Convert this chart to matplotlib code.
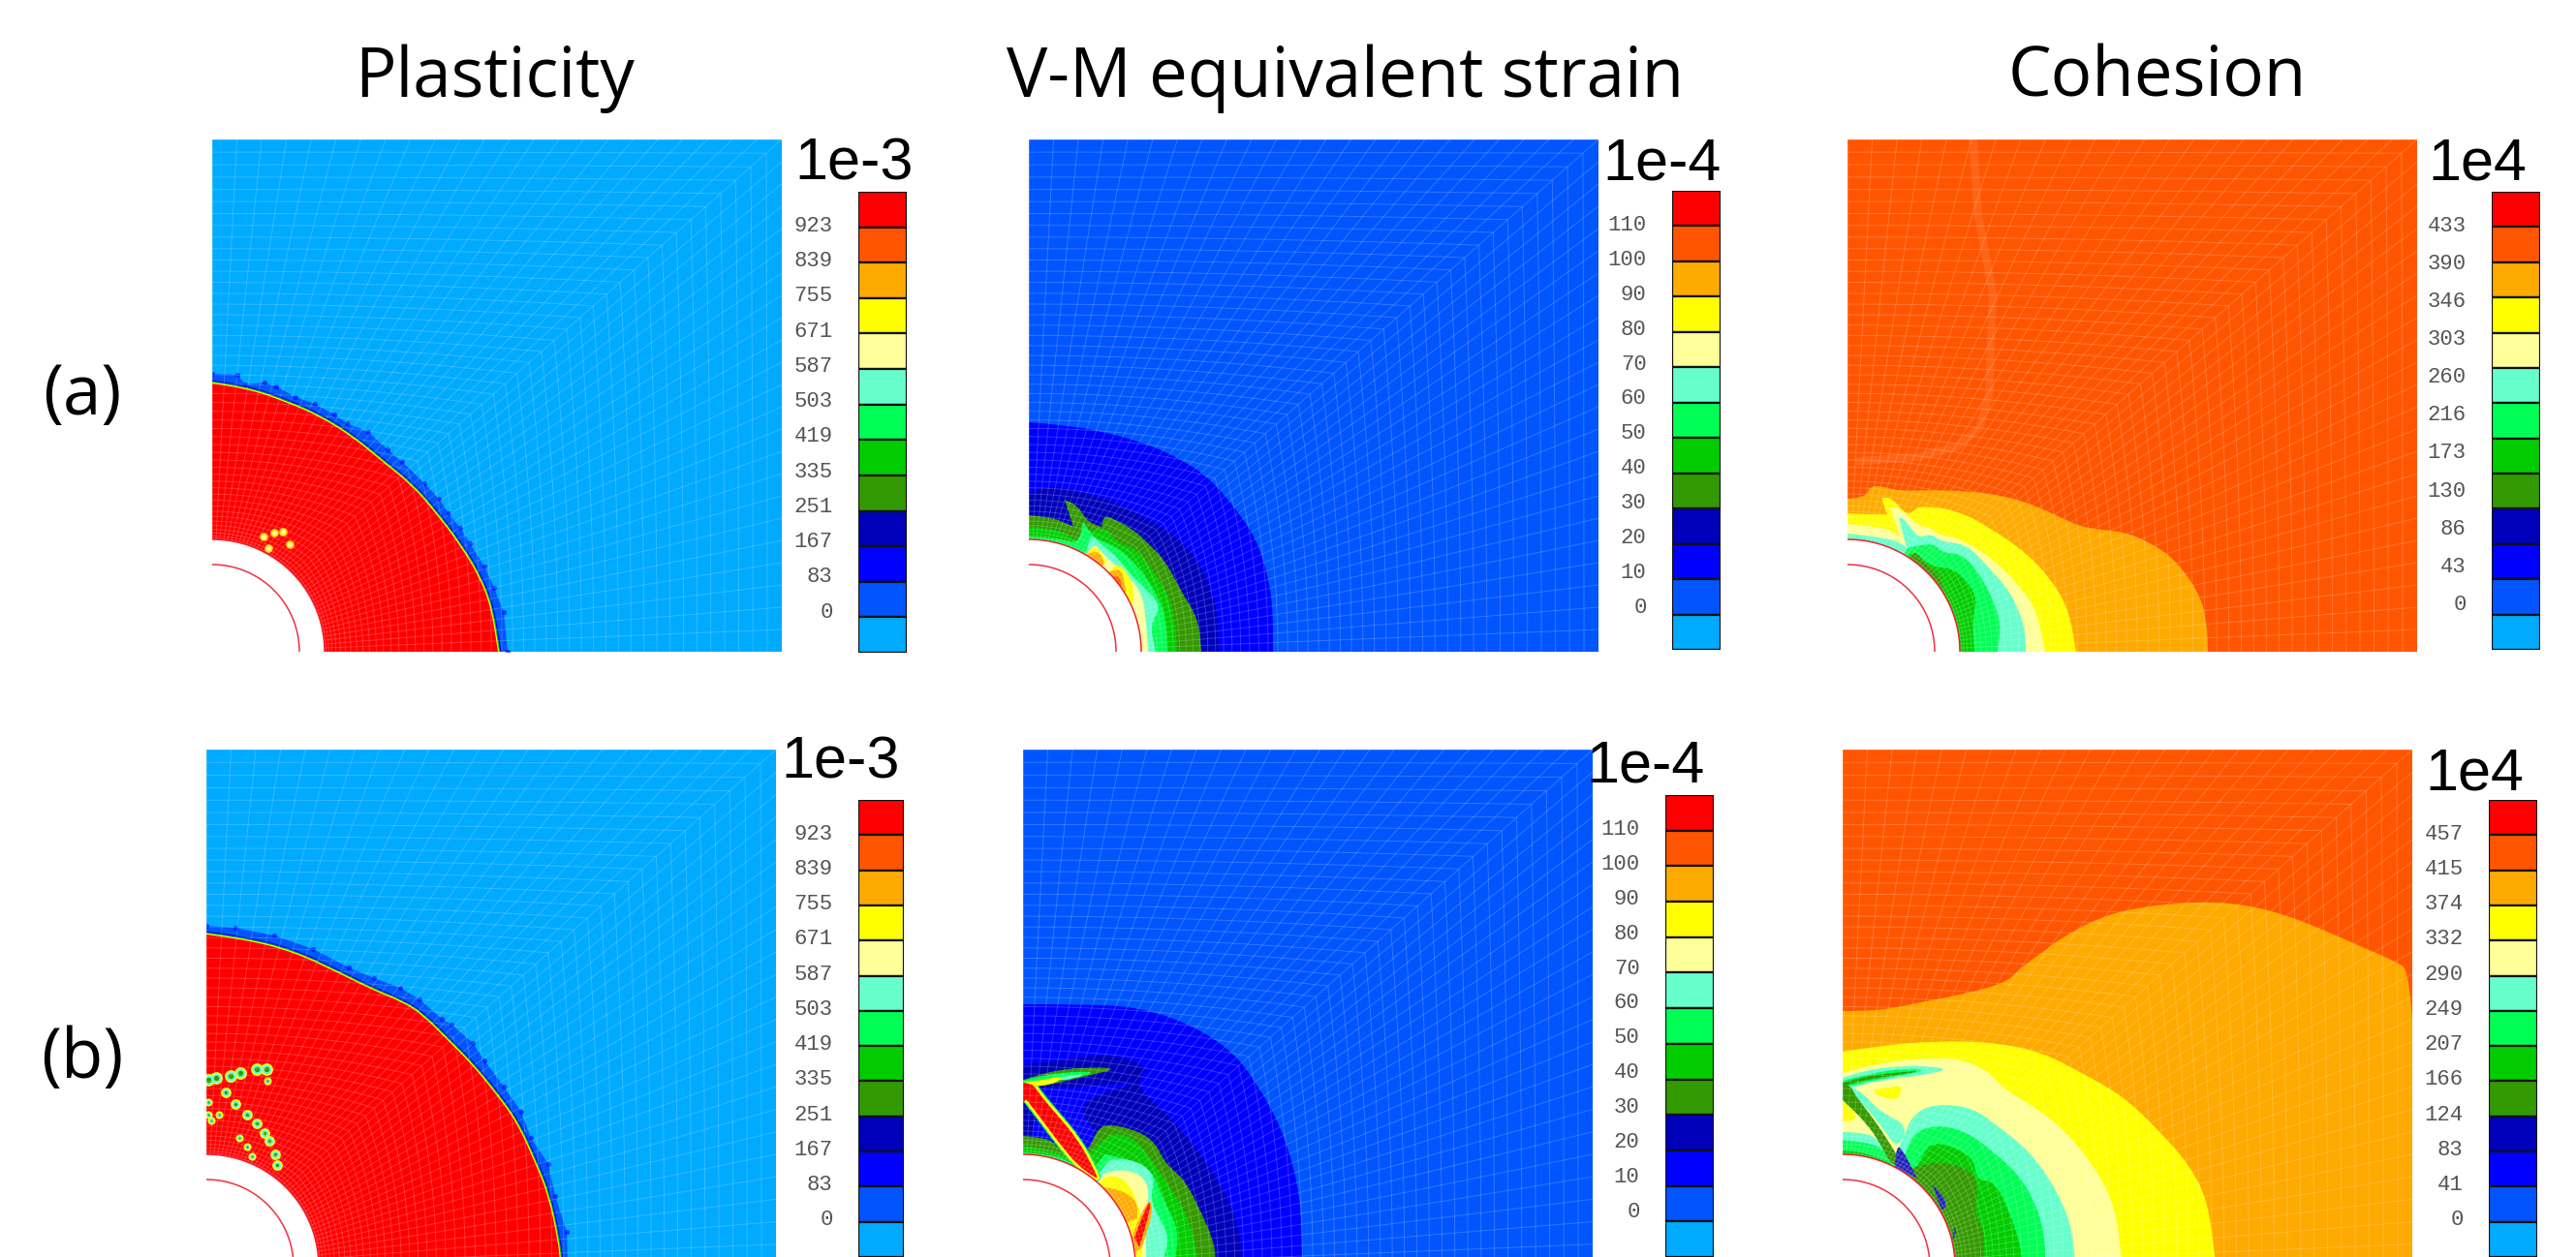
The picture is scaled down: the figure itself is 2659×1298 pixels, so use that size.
import numpy as np
import matplotlib
matplotlib.use("Agg")
import matplotlib.pyplot as plt
from matplotlib.path import Path
from matplotlib.patches import PathPatch

FIG_W, FIG_H = 2659, 1298
PANEL_W = 588

# colour scale, top cell to bottom cell
scale_colors = ["#FF0000", "#FF5500", "#FFAA00", "#FFFF00", "#FFFF99", "#66FFCC", "#00FF55",
                "#00CC00", "#339900", "#0000BB", "#0000FF", "#0055FF", "#00AAFF"]
RED, RORANGE, ORANGE, YELLOW, PALE, CYAN, BRIGHT, MID, DARK, NAVY, BLUE, BLUE2, SKY = scale_colors

titles = ["Plasticity", "V-M equivalent strain", "Cohesion"]
row_labels = ["(a)", "(b)"]

plast_ticks = ["0", "83", "167", "251", "335", "419", "503", "587", "671", "755", "839", "923"]
strain_ticks = ["0", "10", "20", "30", "40", "50", "60", "70", "80", "90", "100", "110"]
cohesion_a_ticks = ["0", "43", "86", "130", "173", "216", "260", "303", "346", "390", "433"]
cohesion_b_ticks = ["0", "41", "83", "124", "166", "207", "249", "290", "332", "374", "415", "457"]

# contour outlines, pixels from the hole centre
a1_jag = [(0,287),(26,286),(34,276),(54,278),(66,274),(86,263),(106,256),(126,245),(139,236),(161,227),
          (181,209),(196,196),(219,174),(234,158),(244,143),(256,128),(266,112),(281,88),(291,66),(301,41),(305,0)]
a1_red = [(0,277),(36,272),(76,258),(111,243),(146,221),(176,196),(206,172),(231,143),(256,110),(276,77),(288,45),(295,0)]
a1_dots = [(73,124),(64,123),(58,107),(80,111),(53,119)]

a2_blue = [(0,237),(38,234),(78,227),(118,216),(151,202),(185,181),(211,151),(235,117),(248,74),(252,41),(252,0)]
a2_navy = [(0,164),(21,172),(45,167),(78,159),(111,144),(145,124),(168,104),(185,74),(195,41),(196,0)]
a2_dark = [(0,141),(21,139),(36,134),(46,129),(46,129),(37,157),(37,157),(50,151),(61,134),(75,129),(75,129),(78,141),(88,137),
           (108,126),(121,114),(141,94),(158,61),(175,34),(178,0)]
a2_mid = [(0,129),(31,127),(45,117),(60,107),(63,127),(81,127),(93,111),(111,107),(128,84),(145,57),(151,31),(153,0)]
a2_bright = [(0,119),(31,117),(51,111),(56,134),(56,134),(68,117),(83,112),(101,101),(121,77),(135,54),(141,34),(143,0)]
a2_cyan = [(60,105),(63,122),(71,114),(88,101),(101,84),(118,67),(131,54),(135,44),(125,27),(131,0)]
a2_pale = [(62,103),(66,113),(75,103),(88,90),(108,73),(118,55),(121,30),(123,0)]
a2_yellow1 = [(59,100),(68,113),(80,93)]
a2_yellow2 = [(85,85),(92,94),(108,72),(108,50)]
a2_orange1 = [(60,101),(71,106),(78,92)]
a2_orange2 = [(83,82),(94,88),(99,72),(100,62)]
a2_rorange = [(88,78),(94,78),(96,66)]

a3_crack = [(130,525),(135,450),(150,370),(146,264),(136,231),(113,212),(73,201),(13,197)]
a3_orange = [(0,158),(19,159),(23,171),(36,171),(53,166),(83,167),(123,166),(163,161),(199,149),(229,134),
             (249,127),(286,124),(316,111),(339,94),(363,61),(371,31),(372,0)]
a3_yellow = [(0,143),(16,142),(36,142),(41,141),(41,141),(35,159),(35,159),(46,159),(61,141),(69,146),(76,151),(113,146),
             (149,127),(186,101),(213,71),(229,41),(236,0)]
a3_pale = [(0,132),(39,129),(54,119),(54,119),(44,149),(44,149),(53,149),(73,131),(79,129),(88,127),(93,121),(116,117),
           (149,97),(179,67),(196,41),(204,0)]
a3_cyan = [(0,122),(29,119),(53,114),(61,107),(61,107),(53,139),(53,139),(59,137),(73,117),(86,122),(96,114),(123,111),
           (146,87),(169,61),(183,27),(184,0)]
a3_bright = [(62,107),(69,109),(89,112),(98,102),(119,101),(139,77),(159,34),(155,0)]
a3_mid = [(65,102),(88,87),(106,87),(123,74),(134,54),(129,34),(131,0)]
a3_dark = [(64,96),(68,106),(80,92),(97,78),(100,55)]

b1_jag = [(0,352),(30,350),(70,342),(110,328),(147,309),(173,298),(200,288),(220,276),(243,256),(253,250),(275,231),
          (287,213),(307,186),(325,160),(335,133),(353,106),(360,73),(372,36),(373,5)]
b1_red = [(0,343),(40,338),(90,325),(137,303),(173,285),(203,273),(223,260),(250,233),(273,210),(297,181),(320,150),
          (340,106),(353,73),(363,26),(365,5)]
b1_crack1 = [(2,193),(10,195),(25,197),(35,200),(52,204),(62,204)]
b1_crack2 = [(20,180),(30,168),(42,157),(52,148),(60,138),(65,130),(71,116),(73,105)]
b1_dots = [(2,170),(5,151),(13,157),(2,157),(63,192),(34,133),(42,124),(47,114)]

b2_blue = [(0,271),(67,271),(117,268),(167,253),(214,225),(241,190),(267,143),(284,86),(288,36),(288,5)]
b2_navy = [(0,208),(51,215),(94,220),(127,206),(127,206),(116,186),(151,156),(184,116),(211,73),(224,36),(227,5)]
b2_wedge = [(14,183),(117,190),(117,190),(64,173),(61,156),(77,136),(72,126),(54,106)]
b2_strip_navy = [(0,167),(25,162),(35,155),(0,150)]
b2_dark = [(72,130),(77,146),(101,146),(134,133),(147,106),(167,90),(184,56),(197,26),(199,5)]
b2_dark_left = [(0,135),(24,133),(34,126),(54,105)]
b2_mid = [(72,120),(85,135),(100,138),(118,130),(135,107),(150,85),(172,50),(181,5)]
b2_mid_left = [(0,125),(40,118),(53,107)]
b2_bright = [(84,116),(104,113),(134,100),(144,70),(161,39),(157,5)]
b2_bright_left = [(0,118),(35,115),(50,107)]
b2_cyan = [(89,110),(111,113),(137,96),(131,70),(141,50),(151,30),(144,5)]
b2_pale = [(84,96),(101,103),(131,90),(127,50),(127,5)]
b2_yellow = [(84,92),(96,96),(112,82),(118,65),(124,50),(124,30),(122,5)]
b2_orange = [(85,82),(100,80),(118,68),(118,50)]
b2_stripe_orange = [(112,30),(126,68),(136,66),(124,20),(116,15)]
b2_stripe = [(115,30),(128,66),(133,65),(120,20)]
b2_band = [(12,188),(17,180),(34,160),(57,133),(72,106),(81,86),(56,103),(37,126),(17,153),(0,175)]
b2_arm_dark = [(0,193),(24,201),(61,206),(99,205),(71,198),(37,190),(17,186),(0,186)]
b2_arm_bright = [(0,192),(20,198),(60,202),(75,200),(50,195),(25,190),(0,187)]
b2_arm_cyan = [(25,193),(55,199),(65,198),(45,193)]
b2_arm_yellow = [(0,190),(22,193),(42,197),(35,190),(15,186),(0,186)]
b2_arm_red = [(0,190),(8,189),(12,186),(10,178),(0,170)]

b3_orange = [(0,264),(37,264),(75,272),(113,279),(167,292),(182,307),(205,324),(228,341),(266,361),(305,371),
             (343,375),(381,377),(420,373),(458,363),(496,348),(534,331),(565,318),(590,304),(590,5)]
b3_yellow = [(0,222),(37,228),(94,233),(152,232),(205,222),(247,200),(290,176),(328,139),(358,105),(377,68),(385,5)]
b3_pale = [(0,200),(37,211),(94,216),(129,213),(152,200),(167,183),(197,166),(228,142),(259,105),(282,62),(288,5)]
b3_cyan = [(57,121),(68,146),(71,153),(83,164),(106,168),(136,163),(159,146),(190,122),(216,88),(236,45),(240,5)]
b3_cyan_band = [(0,190),(18,183),(38,160),(68,146),(57,121),(40,145),(20,170),(0,178)]
b3_cyan_left = [(0,139),(28,139),(41,125),(50,115)]
b3_yellow_blob1 = [(32,183),(50,185),(60,188),(60,175),(50,172),(35,178)]
b3_yellow_blob2 = [(0,172),(12,160),(15,155),(8,150),(0,150)]
b3_arm_cyan = [(0,195),(22,203),(68,208),(110,205),(92,199),(58,195),(28,190),(12,185),(0,184)]
b3_arm_bright = [(0,192),(25,199),(65,205),(88,203),(60,197),(30,192),(12,187),(0,186)]
b3_arm_dark = [(0,190),(20,196),(50,200),(87,203),(50,197),(20,192),(0,186)]
b3_band = [(0,188),(8,188),(12,178),(28,158),(46,132),(62,105),(50,105),(40,125),(25,148),(0,172)]
b3_bright = [(60,104),(67,126),(79,142),(102,146),(129,139),(155,119),(182,95),(201,62),(209,28),(209,5)]
b3_bright_left = [(0,131),(23,129),(42,122),(56,105)]
b3_mid = [(72,95),(81,112),(90,127),(109,126),(136,112),(138,89),(155,89),(169,65),(182,28),(186,5)]
b3_mid_left = [(0,120),(15,120),(35,113),(50,107)]
b3_dark = [(64,100),(83,105),(102,109),(133,99),(140,82),(136,55),(146,38),(146,5)]
b3_patch1 = [(54,103),(55,125),(62,121),(77,91)]
b3_patch2 = [(93,85),(97,81),(108,66),(103,56),(98,70)]
b3_patch3 = [(113,26),(118,36),(115,40)]

plt.rcParams["font.family"] = ["DejaVu Sans"]
fig = plt.figure(figsize=(FIG_W / 100, FIG_H / 100), dpi=100, facecolor="white")


def px_text(x, y, s, **kw):
    fig.text(x / FIG_W, 1 - y / FIG_H, s, **kw)


def curve_path(pts, through_origin=False, closed=False):
    # rounded outline, a doubled point keeps a sharp tip
    verts, codes = [], []
    if through_origin:
        verts += [(0, 0), pts[0]]
        codes += [Path.MOVETO, Path.LINETO]
    else:
        verts.append(pts[0])
        codes.append(Path.MOVETO)
    for i in range(1, len(pts) - 1):
        mid = ((pts[i][0] + pts[i + 1][0]) / 2, (pts[i][1] + pts[i + 1][1]) / 2)
        verts += [pts[i], mid]
        codes += [Path.CURVE3, Path.CURVE3]
    verts.append(pts[-1])
    codes.append(Path.LINETO)
    if through_origin or closed:
        verts.append(verts[0])
        codes.append(Path.CLOSEPOLY)
    return Path(verts, codes)


def wedge(ax, pts, color):
    # polygon closed through the hole centre, the hole covers that part later
    ax.add_patch(PathPatch(curve_path(pts, through_origin=True), fc=color, ec="none", lw=0))


def blob(ax, pts, color, ec="none", lw=0):
    ax.add_patch(PathPatch(curve_path(pts, closed=True), fc=color, ec=ec, lw=lw))


def edge_line(ax, pts, color, lw):
    ax.add_patch(PathPatch(curve_path(pts), fc="none", ec=color, lw=lw))


def add_panel(left, top, y_low, bg):
    h = 529
    ax = fig.add_axes([left / FIG_W, 1 - (top + h) / FIG_H, PANEL_W / FIG_W, h / FIG_H])
    ax.set_xlim(0, PANEL_W)
    ax.set_ylim(y_low, y_low + h)
    ax.axis("off")
    ax.fill([0, PANEL_W, PANEL_W, 0], [y_low, y_low, y_low + h, y_low + h], color=bg, lw=0)
    return ax


def finish_panel(ax):
    # O-grid mesh from the hole out to the square edge, faint white lines
    lims = ax.get_ylim()
    H = lims[1]
    s = np.linspace(0, 1, 47)
    phi = s * np.pi / 2
    hx, hy = 116 * np.sin(phi), 116 * np.cos(phi)
    sx = np.where(s < 0.5, s * 2, 1.0) * PANEL_W
    sy = np.where(s < 0.5, H, H * (2 - 2 * s))
    ts = (np.linspace(0, 1, 48)) ** 1.5
    for t in ts:
        ax.plot(hx + t * (sx - hx), hy + t * (sy - hy), color="white", lw=0.7, alpha=0.2)
    tt = np.linspace(0, 1, 40)
    for i in range(len(s)):
        ax.plot(hx[i] + tt * (sx[i] - hx[i]), hy[i] + tt * (sy[i] - hy[i]), color="white", lw=0.7, alpha=0.2)
    # hole and the two red arcs
    a = np.linspace(0, np.pi / 2, 80)
    ax.fill(np.r_[0, 116 * np.cos(a)], np.r_[0, 116 * np.sin(a)], color="white", lw=0)
    ax.plot(116 * np.cos(a), 116 * np.sin(a), color="#F02030", lw=1.1)
    ax.plot(90 * np.cos(a), 90 * np.sin(a), color="#F03040", lw=1.1)
    ax.set_xlim(0, PANEL_W)
    ax.set_ylim(lims)


def add_scale(left, top, bottom, width, ticks, low_pos, label, lab_x, lab_y):
    cax = fig.add_axes([left / FIG_W, 1 - bottom / FIG_H, width / FIG_W, (bottom - top) / FIG_H])
    n = len(scale_colors)
    for i, c in enumerate(scale_colors):
        cax.bar(0.5, 1, bottom=n - 1 - i, width=1, color=c, edgecolor="#111111", linewidth=1.6)
    cax.set_xlim(0, 1)
    cax.set_ylim(0, n)
    cax.set_xticks([])
    cax.set_yticks(np.linspace(low_pos, 12.1, len(ticks)))
    cax.set_yticklabels(ticks, family="Liberation Mono", fontsize=16, color="#555555")
    cax.tick_params(axis="y", length=0, pad=19)
    for sp in cax.spines.values():
        sp.set_visible(False)
    px_text(lab_x, lab_y, label, family="Liberation Sans", fontsize=44, color="black", ha="left", va="baseline")


# (a) plasticity
ax = add_panel(219, 144, 0, SKY)
ax.fill([0] + [p[0] for p in a1_jag], [0] + [p[1] for p in a1_jag], color=BLUE2, lw=0)
ax.scatter([p[0] for p in a1_jag], [p[1] for p in a1_jag], s=14, c=BLUE, lw=0, alpha=0.6)
edge_line(ax, a1_red, BLUE, 5)
edge_line(ax, a1_red, MID, 3.2)
edge_line(ax, a1_red, YELLOW, 1.6)
wedge(ax, a1_red, RED)
ax.scatter([p[0] for p in a1_dots], [p[1] for p in a1_dots], s=38, c="#FFD800", marker="o", lw=0)
ax.scatter([p[0] for p in a1_dots], [p[1] for p in a1_dots], s=12, c="#FFFF99", marker="o", lw=0)
finish_panel(ax)

# (a) strain
ax = add_panel(1062, 144, 0, BLUE2)
for pts, c in [(a2_blue, BLUE), (a2_navy, NAVY), (a2_dark, DARK), (a2_mid, MID), (a2_bright, BRIGHT),
               (a2_cyan, CYAN), (a2_pale, PALE), (a2_yellow1, YELLOW), (a2_yellow2, YELLOW),
               (a2_orange1, ORANGE), (a2_orange2, ORANGE), (a2_rorange, RORANGE)]:
    wedge(ax, pts, c)
finish_panel(ax)

# (a) cohesion
ax = add_panel(1907, 144, 0, RORANGE)
ax.plot([p[0] for p in a3_crack], [p[1] for p in a3_crack], color="white", lw=6, alpha=0.09)
for pts, c in [(a3_orange, ORANGE), (a3_yellow, YELLOW), (a3_pale, PALE), (a3_cyan, CYAN),
               (a3_bright, BRIGHT), (a3_mid, MID), (a3_dark, DARK)]:
    wedge(ax, pts, c)
finish_panel(ax)

# (b) plasticity
ax = add_panel(213, 774, 5, SKY)
ax.fill([0] + [p[0] for p in b1_jag], [0] + [p[1] for p in b1_jag], color=BLUE2, lw=0)
ax.scatter([p[0] for p in b1_jag], [p[1] for p in b1_jag], s=14, c=BLUE, lw=0, alpha=0.6)
edge_line(ax, b1_red, BLUE, 5)
edge_line(ax, b1_red, MID, 3.2)
edge_line(ax, b1_red, YELLOW, 1.6)
wedge(ax, b1_red, RED)
for pts, sizes in [(b1_crack1, (85, 50, 16)), (b1_crack2, (60, 30, 7)), (b1_dots, (34, 14, 3))]:
    xs, ys = [p[0] for p in pts], [p[1] for p in pts]
    ax.scatter(xs, ys, s=sizes[0], c=YELLOW, lw=0)
    ax.scatter(xs, ys, s=sizes[1], c=CYAN, lw=0)
    ax.scatter(xs, ys, s=sizes[2], c=DARK, lw=0)
finish_panel(ax)

# (b) strain
ax = add_panel(1056, 774, 5, BLUE2)
for pts, c in [(b2_blue, BLUE), (b2_navy, NAVY), (b2_wedge, BLUE), (b2_dark, DARK), (b2_dark_left, DARK),
               (b2_mid, MID), (b2_mid_left, MID), (b2_bright, BRIGHT), (b2_bright_left, BRIGHT),
               (b2_cyan, CYAN), (b2_pale, PALE), (b2_yellow, YELLOW), (b2_orange, ORANGE)]:
    wedge(ax, pts, c)
blob(ax, b2_stripe_orange, ORANGE)
blob(ax, b2_stripe, RED)
blob(ax, b2_strip_navy, NAVY)
blob(ax, b2_band, RED, ec=BRIGHT, lw=3.5)
blob(ax, b2_band, RED, ec=YELLOW, lw=1.8)
blob(ax, b2_arm_dark, DARK)
blob(ax, b2_arm_bright, BRIGHT)
blob(ax, b2_arm_cyan, CYAN)
blob(ax, b2_arm_yellow, YELLOW)
blob(ax, b2_arm_red, RED)
finish_panel(ax)

# (b) cohesion
ax = add_panel(1902, 774, 5, RORANGE)
for pts, c in [(b3_orange, ORANGE), (b3_yellow, YELLOW), (b3_pale, PALE), (b3_cyan, CYAN),
               (b3_cyan_left, CYAN), (b3_bright, BRIGHT), (b3_bright_left, BRIGHT),
               (b3_mid, MID), (b3_mid_left, MID), (b3_dark, DARK)]:
    wedge(ax, pts, c)
blob(ax, b3_cyan_band, CYAN)
blob(ax, b3_yellow_blob1, YELLOW)
blob(ax, b3_yellow_blob2, YELLOW)
blob(ax, b3_arm_cyan, CYAN)
blob(ax, b3_arm_bright, BRIGHT)
blob(ax, b3_arm_dark, DARK)
blob(ax, b3_band, DARK)
for pts in [b3_patch1, b3_patch2, b3_patch3]:
    blob(ax, pts, "#2222BB")
finish_panel(ax)

# colour scales
add_scale(886, 198, 674, 50, plast_ticks, 1.21, "1e-3", 820, 185)
add_scale(1726, 197, 671, 50, strain_ticks, 1.26, "1e-4", 1654, 185)
add_scale(2572, 198, 671, 50, cohesion_a_ticks, 1.35, "1e4", 2506, 186)
add_scale(886, 826, 1298, 47, plast_ticks, 1.12, "1e-3", 806, 803)
add_scale(1719, 821, 1298, 50, strain_ticks, 1.34, "1e-4", 1637, 807)
add_scale(2569, 826, 1298, 50, cohesion_b_ticks, 1.12, "1e4", 2503, 816)

# titles and row labels
for x, s in zip([511, 1389, 2227], titles):
    px_text(x, 100, s, family="Open Sans", fontsize=51, ha="center", va="baseline", color="black")
px_text(85, 428, row_labels[0], family="Open Sans", fontsize=51, ha="center", va="baseline", color="black")
px_text(85, 1113, row_labels[1], family="Open Sans", fontsize=51, ha="center", va="baseline", color="black")

fig.savefig("out.png", dpi=100, facecolor="white")
